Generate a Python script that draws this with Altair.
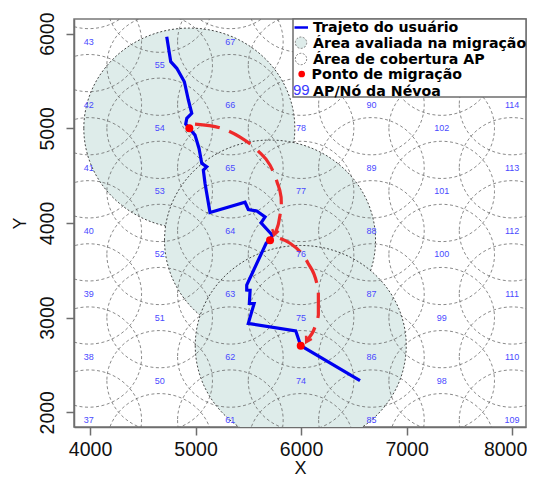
import altair as alt
import pandas as pd

# Access-point grid: column x, first id, first y per column
col_x = [3988, 4660, 5330, 6000, 6667, 7333, 8000]
col_first_id = [37, 49, 61, 73, 85, 97, 109]
odd_y = [1917, 2583, 3250, 3917, 4583, 5250, 5917, 6583]
even_y = [1667, 2333, 3000, 3667, 4333, 5000, 5667, 6333]
ids_under_legend = [79, 91, 103, 115]

traj_x = [4727, 4765, 4822, 4894, 4932, 4964, 4917, 4907, 4941, 4995, 5033, 5059, 5106, 5074, 5090, 5137,
          5469, 5500, 5580, 5659, 5621, 5728, 5706, 5670, 5485, 5485, 5517, 5510, 5555, 5500, 5950, 5997, 6559]
traj_y = [5968, 5704, 5634, 5492, 5299, 5158, 5105, 5045, 5000, 4928, 4787, 4629, 4593, 4558, 4417, 4110,
          4219, 4142, 4127, 4064, 4000, 3870, 3817, 3787, 3344, 3291, 3288, 3150, 3148, 2939, 2858, 2703, 2333]

arc1_x = [4995, 5232, 5422, 5592, 5706, 5773, 5811, 5815, 5782, 5754]
arc1_y = [5045, 5005, 4907, 4762, 4611, 4431, 4272, 4135, 3976, 3891]
arc2_x = [5801, 5896, 6066, 6149, 6164, 6164, 6133, 6054]
arc2_y = [3835, 3786, 3575, 3362, 3256, 3027, 2904, 2762]
arrow_x = [5744, 6049]
arrow_y = [3870, 2741]
arrow_angle = [15, 30]

mig_x = [4941, 5706, 5997]
mig_y = [5000, 3817, 2703]

legend_labels = ["Trajeto do usuário", "Área avaliada na migração", "Área de cobertura AP",
                 "Ponto de migração", "AP/Nó da Névoa"]

ap_rows = []
for i, (cx, first) in enumerate(zip(col_x, col_first_id)):
    ys = odd_y if i % 2 == 0 else even_y
    for k, cy in enumerate(ys):
        ap_rows.append({"x": cx, "y": cy, "id": first + k})
ap = pd.DataFrame(ap_rows)
ap["label"] = ap["id"].astype(str)
visible = ap[(ap.y > 1800) & (ap.y < 6100) & (~ap.id.isin(ids_under_legend))].copy()

axis_common = dict(domainColor="#6e6e6e", domainWidth=1.5, tickColor="#6e6e6e", tickWidth=1.5,
                   tickSize=8, labelFont="Liberation Sans", labelFontSize=19.5, labelColor="#111",
                   titleFont="Liberation Sans", titleFontSize=18, titleFontWeight="normal",
                   titleColor="#111", grid=False, format="d")

XS = alt.Scale(domain=[3848, 8132], nice=False, zero=False)
YS = alt.Scale(domain=[1844, 6155], nice=False, zero=False)
X = alt.X("x:Q", scale=XS, title="X",
          axis=alt.Axis(values=[4000, 5000, 6000, 7000, 8000], labelPadding=5, titlePadding=1,
                        labelOffset=alt.expr("datum.value == 8000 ? -7 : 0"), **axis_common))
Y = alt.Y("y:Q", scale=YS, title="Y",
          axis=alt.Axis(values=[2000, 3000, 4000, 5000, 6000], labelAngle=270, labelAlign="center",
                        labelBaseline="bottom", labelPadding=9, titlePadding=8, **axis_common))

ELL = "M -1 0 A 1 0.95 0 1 0 1 0 A 1 0.95 0 1 0 -1 0 Z"
VEE = "M -0.6 -1 L 0 0 L 0.6 -1"

mig = pd.DataFrame({"x": mig_x, "y": mig_y})
big = alt.Chart(mig).mark_point(shape=ELL, filled=True, fill="#deecea", fillOpacity=1, stroke="#333",
                                strokeWidth=0.9, strokeDash=[2, 2], strokeOpacity=1, size=44521,
                                clip=True).encode(x=X, y=Y)

small = alt.Chart(ap[["x", "y"]]).mark_point(shape=ELL, filled=False, stroke="#666", strokeWidth=0.9,
                                             strokeDash=[3, 2.5], opacity=0.85, size=11151, clip=True).encode(x=X, y=Y)

traj = pd.DataFrame({"x": traj_x, "y": traj_y, "o": range(len(traj_x))})
path = alt.Chart(traj).mark_line(color="#0000f0", strokeWidth=3.2, clip=True).encode(x=X, y=Y, order="o:Q")

def arc(ax, ay):
    d = pd.DataFrame({"x": ax, "y": ay, "o": range(len(ax))})
    return alt.Chart(d).mark_line(color="#ee2a2a", strokeWidth=3.2, strokeDash=[25, 10],
                                  interpolate="monotone").encode(x=X, y=Y, order="o:Q")

arrows = [alt.Chart(pd.DataFrame({"x": [ax], "y": [ay]})).mark_point(
    shape=VEE, filled=False, stroke="#ee2a2a", strokeWidth=2.5, opacity=1, size=120, angle=ang
).encode(x=X, y=Y) for ax, ay, ang in zip(arrow_x, arrow_y, arrow_angle)]

dots = alt.Chart(mig).mark_point(shape="circle", filled=True, color="#ff0000", opacity=1, size=64).encode(x=X, y=Y)

labels = alt.Chart(visible).mark_text(font="Liberation Sans", fontSize=9, color="#4a4aff", clip=True).encode(
    x=X, y=Y, text="label:N")

one = pd.DataFrame({"a": [0]})
LEFT, TOP = 74, 19
def px(v): return alt.value(v - LEFT)
def py(v): return alt.value(v - TOP)

box = alt.Chart(one).mark_rect(fill="white", stroke="#6e6e6e", strokeWidth=1.5).encode(
    x=px(293), x2=px(526), y=py(19), y2=py(97))

l_line = alt.Chart(one).mark_rule(color="#0000f0", strokeWidth=2.5).encode(
    x=px(294.5), x2=px(308), y=py(27.5))
l_c1 = alt.Chart(one).mark_point(shape="circle", filled=True, fill="#deecea", fillOpacity=1, stroke="#777",
                                 strokeWidth=0.9, strokeDash=[2, 1.5], strokeOpacity=1, size=130).encode(
    x=px(301), y=py(42.7))
l_c2 = alt.Chart(one).mark_point(shape="circle", filled=False, stroke="#777", strokeWidth=0.9,
                                 strokeDash=[2, 1.5], opacity=1, size=130).encode(x=px(301), y=py(59))
l_c3 = alt.Chart(one).mark_point(shape="circle", filled=True, color="#ff0000", opacity=1, size=45).encode(
    x=px(301.7), y=py(74))
l_99 = alt.Chart(one).mark_text(font="Liberation Sans", fontSize=15, color="#3a3aff", align="left",
                                baseline="alphabetic").encode(x=px(293), y=py(95), text=alt.value("99"))

txt_x = [313, 313, 313, 311.5, 313]
txt_y = [32, 48, 63.5, 79, 95.5]
l_txt = [alt.Chart(one).mark_text(font="DejaVu Sans", fontWeight="bold", fontSize=14.2, color="#000",
                                  align="left", baseline="alphabetic").encode(
    x=px(tx), y=py(ty), text=alt.value(t)) for t, tx, ty in zip(legend_labels, txt_x, txt_y)]

chart = alt.layer(big, small, path, arc(arc1_x, arc1_y), arc(arc2_x, arc2_y), *arrows, dots, labels,
                  box, l_line, l_c1, l_c2, l_c3, l_99, *l_txt).properties(
    width=452, height=408,
    autosize=alt.AutoSizeParams(type="none"),
    padding={"left": 66, "top": 11, "right": 1, "bottom": 50},
).configure_view(stroke="#777", strokeWidth=1.5)

chart.save("out.html", embed_options={"renderer": "svg", "actions": False})
